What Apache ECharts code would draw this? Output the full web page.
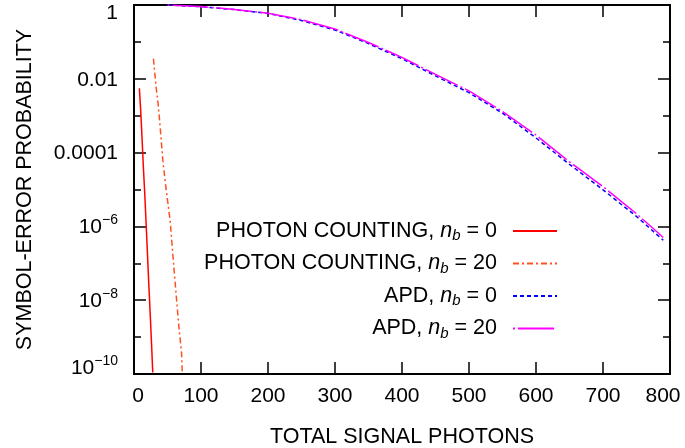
<!DOCTYPE html>
<html>
<head>
<meta charset="utf-8">
<script src="https://cdn.jsdelivr.net/npm/echarts@6/dist/echarts.min.js"></script>
<style>
  html, body { margin: 0; padding: 0; background: #fff; }
  #chart { width: 685px; height: 448px; }
</style>
</head>
<body>
<div id="chart"></div>
<script>
// photon counting, nb = 0
const pc0Photons = [8, 10, 12, 14, 16, 18, 20, 22, 24, 26, 28]
const pc0Prob = [5.5e-3, 1.4e-3, 2.5e-4, 4e-5, 8e-6, 1.3e-6, 2e-7, 3e-8, 5e-9, 8e-10, 1.1e-10]
// photon counting, nb = 20
const pc20Photons = [29, 33, 36, 39, 43, 47, 54, 59, 64, 67, 71, 72]
const pc20Prob = [3.5e-2, 5.9e-3, 2.1e-3, 5e-4, 6.3e-5, 1.4e-5, 1.4e-6, 1e-7, 8.3e-9, 1.9e-9, 3.7e-10, 1.05e-10]
// APD curves
const apdPhotons = [50, 100, 150, 200, 250, 300, 350, 400, 450, 500, 550, 600, 650, 700, 750, 790]
const apd0Prob = [1.0, 0.9, 0.75, 0.59, 0.38, 0.21, 0.09, 0.035, 0.012, 4.2e-3, 1.17e-3, 2.5e-4, 4.8e-5, 9.8e-6, 1.86e-6, 4.2e-7]
const apd20Prob = [1.0, 0.91, 0.76, 0.6, 0.4, 0.224, 0.096, 0.038, 0.0132, 4.7e-3, 1.3e-3, 3e-4, 5.6e-5, 1.2e-5, 2.2e-6, 5e-7]

const seriesNames = ['PC0', 'PC20', 'APD0', 'APD20']
const legendLabels = {
  PC0: 'PHOTON COUNTING, {i|n}{s|b} = 0',
  PC20: 'PHOTON COUNTING, {i|n}{s|b} = 20',
  APD0: 'APD, {i|n}{s|b} = 0',
  APD20: 'APD, {i|n}{s|b} = 20'
}

const FONT = '"Liberation Sans", Arial, Helvetica, sans-serif'
const FS = 21
const LFS = 21.5

const zip = (xs, ys) => xs.map((x, i) => [x, ys[i]])

const chart = echarts.init(document.getElementById('chart'))

const baseText = { fontFamily: FONT, fontSize: FS, color: '#000' }
const legendText = { fontFamily: FONT, fontSize: LFS, color: '#000' }

// y labels: only every second decade, with superscripts
const yLabel = v => {
  const e = Math.round(Math.log10(v))
  if (e % 2 !== 0) return ''
  if (e === 0) return '{top|1}'
  if (e === -2) return '{n|0.01}'
  if (e === -4) return '{n|0.0001}'
  if (e === -10) return '{bb|10}{bs|−10}'
  return '{n|10}{sup|−' + (-e) + '}'
}

const yAxisBase = (pos, interval, len, show) => ({
  type: 'log',
  logBase: 10,
  min: 1e-10,
  max: 1,
  interval: interval,
  position: pos,
  axisLine: { show: false },
  splitLine: { show: false },
  axisTick: { show: true, inside: true, length: len, lineStyle: { color: '#000', width: 1.5 } },
  axisLabel: show ? {
    show: true,
    margin: 16,
    formatter: yLabel,
    ...baseText,
    rich: {
      top: { ...baseText, padding: [16, 0, 0, 0] },
      n: { ...baseText, padding: [2, 0, 0, 0] },
      sup: { ...baseText, fontSize: 14, padding: [0, 0, 12, 0] },
      bb: { ...baseText, padding: [0, 0, 12, 0] },
      bs: { ...baseText, fontSize: 14, padding: [0, 0, 26, 0] }
    }
  } : { show: false }
})

const option = {
  animation: false,
  backgroundColor: '#fff',
  grid: {
    left: 134, right: 15, top: 5, bottom: 74,
    outerBoundsMode: 'none',
    containLabel: false,
    show: true, borderColor: '#000', borderWidth: 2, backgroundColor: 'transparent'
  },
  legend: {
    data: seriesNames,
    orient: 'vertical',
    align: 'right',
    right: 127,
    top: 220,
    padding: 0,
    itemWidth: 44,
    itemHeight: 20,
    itemGap: 9,
    itemStyle: { opacity: 0 },
    formatter: name => legendLabels[name],
    textStyle: {
      ...legendText,
      padding: [0, 11, 0, 0],
      rich: {
        i: { ...legendText, fontStyle: 'italic' },
        s: { ...legendText, fontStyle: 'italic', fontSize: 15, padding: [10, 0, 0, 0] }
      }
    }
  },
  xAxis: [
    {
      type: 'value', min: 0, max: 800, interval: 100, position: 'bottom',
      name: 'TOTAL SIGNAL PHOTONS', nameLocation: 'middle', nameGap: 52,
      nameTextStyle: { ...legendText },
      axisLine: { show: false },
      splitLine: { show: false },
      axisTick: { inside: true, length: 12, lineStyle: { color: '#000', width: 1.5 } },
      axisLabel: {
        margin: 12, ...baseText,
        formatter: v => v === 0 ? '{l|0}' : v === 800 ? '{r|800}' : String(v),
        rich: {
          l: { ...baseText, padding: [0, 0, 0, 8] },
          r: { ...baseText, padding: [0, 14, 0, 0] }
        }
      }
    },
    {
      type: 'value', min: 0, max: 800, interval: 100, position: 'top',
      axisLine: { show: false },
      splitLine: { show: false },
      axisTick: { inside: true, length: 12, lineStyle: { color: '#000', width: 1.5 } },
      axisLabel: { show: false }
    }
  ],
  yAxis: [
    {
      ...yAxisBase('left', 2, 12, true),
      name: 'SYMBOL-ERROR PROBABILITY', nameLocation: 'middle', nameGap: 98,
      nameTextStyle: { ...legendText }
    },
    yAxisBase('left', 1, 7, false),
    yAxisBase('right', 2, 12, false),
    yAxisBase('right', 1, 7, false)
  ],
  series: [
    {
      name: 'PC0', type: 'line', symbol: 'none', data: zip(pc0Photons, pc0Prob),
      lineStyle: { color: '#ff0000', width: 1.5 }, itemStyle: { color: '#ff0000' }
    },
    {
      name: 'PC20', type: 'line', symbol: 'none', data: zip(pc20Photons, pc20Prob),
      lineStyle: { color: '#ff5020', width: 1.5, type: [6, 3, 2, 3] }, itemStyle: { color: '#ff5020' }
    },
    {
      name: 'APD0', type: 'line', symbol: 'none', data: zip(apdPhotons, apd0Prob),
      lineStyle: { color: '#0000ff', width: 1.5, type: [4, 3] }, itemStyle: { color: '#0000ff' }
    },
    {
      name: 'APD20', type: 'line', symbol: 'none', data: zip(apdPhotons, apd20Prob),
      lineStyle: { color: '#ff00ff', width: 1.5, type: [2, 3, 36, 3] }, itemStyle: { color: '#ff00ff' }
    }
  ]
}

chart.setOption(option)
</script>
</body>
</html>
